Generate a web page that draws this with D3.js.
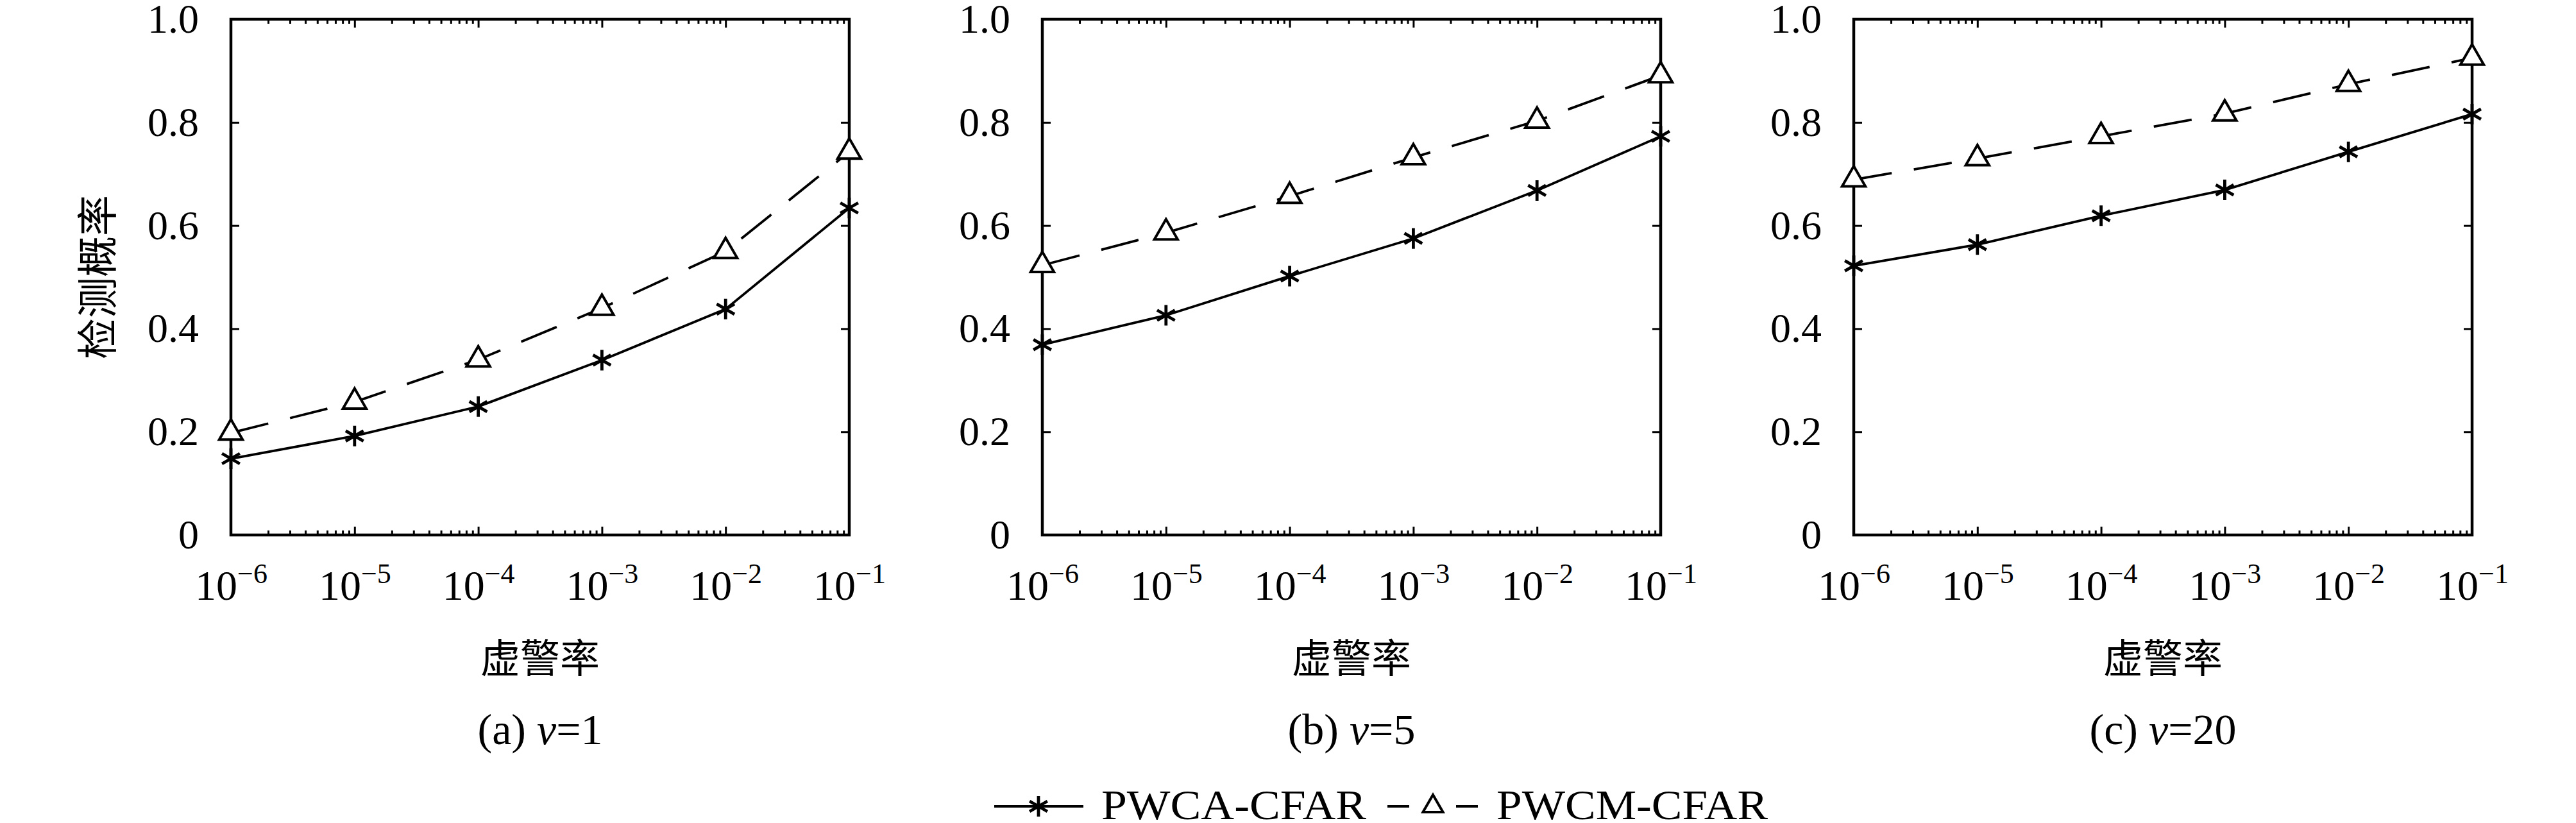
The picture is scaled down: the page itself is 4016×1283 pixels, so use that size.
<!DOCTYPE html>
<html>
<head>
<meta charset="utf-8">
<script src="https://cdn.jsdelivr.net/npm/d3@7"></script>
<style>
  body { margin: 0; background: #fff; }
</style>
</head>
<body>
<div id="chart"></div>
<script>
// Data
var falseAlarm = [1e-6, 1e-5, 1e-4, 1e-3, 1e-2, 1e-1];
var expLabels = ["\u22126", "\u22125", "\u22124", "\u22123", "\u22122", "\u22121"];
var yTicks = [0, 0.2, 0.4, 0.6, 0.8, 1.0];
var seriesNames = ["PWCA-CFAR", "PWCM-CFAR"];
var panelLetters = ["(a)", "(b)", "(c)"];
var panelNu = ["1", "5", "20"];

var pwcaV1  = [0.148, 0.192, 0.249, 0.339, 0.438, 0.634];
var pwcmV1  = [0.198, 0.258, 0.340, 0.440, 0.550, 0.743];
var pwcaV5  = [0.369, 0.426, 0.502, 0.575, 0.668, 0.773];
var pwcmV5  = [0.523, 0.586, 0.657, 0.732, 0.803, 0.891];
var pwcaV20 = [0.522, 0.563, 0.619, 0.669, 0.743, 0.816];
var pwcmV20 = [0.689, 0.730, 0.773, 0.817, 0.874, 0.925];

var panels = [
  {ca: pwcaV1, cm: pwcmV1},
  {ca: pwcaV5, cm: pwcmV5},
  {ca: pwcaV20, cm: pwcmV20}
];

// Layout
//-----------
var W = 4016, H = 1283;
var plotW = 964, plotH = 804;
var plotTop = 30;
var lefts = [360, 1625, 2890];
var serif = "'Liberation Serif', 'Times New Roman', serif";
var cjk = "'Noto Sans CJK SC', sans-serif";

var svg = d3.select("#chart").append("svg")
  .attr("width", W).attr("height", H);
svg.append("rect").attr("width", W).attr("height", H).attr("fill", "#fff");

var x = d3.scaleLog().domain([1e-6, 1e-1]).range([0, plotW]);
var y = d3.scaleLinear().domain([0, 1]).range([plotH, 0]);

// minor log ticks 2..9 in each decade
var minors = [];
falseAlarm.slice(0, -1).forEach(function(d) {
  for (var k = 2; k <= 9; k++) minors.push(d * k);
});

function starPath(r) {
  var p = "";
  [90, 30, 150].forEach(function(a) {
    var rad = a * Math.PI / 180;
    var dx = r * Math.cos(rad), dy = r * Math.sin(rad);
    p += "M" + (-dx) + "," + (-dy) + "L" + dx + "," + dy;
  });
  return p;
}
function triPath(r) {
  var s = Math.sqrt(3) / 2;
  return "M0," + (-r) + "L" + (r * s) + "," + (r / 2) + "L" + (-r * s) + "," + (r / 2) + "Z";
}

panels.forEach(function(pd, pi) {
  var g = svg.append("g").attr("transform", "translate(" + lefts[pi] + "," + plotTop + ")");

  // ticks (inward, mirrored)
  var tickStyle = function(sel) {
    sel.select(".domain").remove();
    sel.selectAll("line").attr("stroke", "#000").attr("stroke-width", 3);
  };
  g.append("g").attr("transform", "translate(0," + plotH + ")")
    .call(d3.axisBottom(x).tickValues(minors).tickSize(-7).tickFormat("")).call(tickStyle);
  g.append("g")
    .call(d3.axisTop(x).tickValues(minors).tickSize(-7).tickFormat("")).call(tickStyle);
  g.append("g")
    .call(d3.axisTop(x).tickValues(falseAlarm).tickSize(-13).tickFormat("")).call(tickStyle);
  g.append("g").attr("transform", "translate(" + plotW + ",0)")
    .call(d3.axisRight(y).tickValues(yTicks).tickSize(-13).tickFormat("")).call(tickStyle);

  var xAxis = g.append("g").attr("transform", "translate(0," + plotH + ")")
    .call(d3.axisBottom(x).tickValues(falseAlarm).tickSize(-13).tickFormat(function() { return ""; }))
    .call(tickStyle);
  xAxis.selectAll(".tick text")
    .attr("y", 101).attr("dy", null)
    .attr("font-family", serif).attr("font-size", 66).attr("fill", "#000")
    .each(function(d, i) {
      var t = d3.select(this);
      t.append("tspan").text("10");
      t.append("tspan").attr("dy", -26).attr("font-size", 44).text(expLabels[i]);
    });

  g.append("g")
    .call(d3.axisLeft(y).tickValues(yTicks).tickSize(-13).tickPadding(50)
      .tickFormat(function(d) { return d === 0 ? "0" : d3.format(".1f")(d); }))
    .call(tickStyle)
    .selectAll("text")
    .attr("font-family", serif).attr("font-size", 64).attr("fill", "#000");

  // frame
  g.append("rect").attr("width", plotW).attr("height", plotH)
    .attr("fill", "none").attr("stroke", "#000").attr("stroke-width", 4.5);

  // series
  var line = d3.line().x(function(d, i) { return x(falseAlarm[i]); }).y(function(d) { return y(d); });

  g.append("path").datum(pd.ca).attr("d", line)
    .attr("fill", "none").attr("stroke", "#000").attr("stroke-width", 3.8);
  g.append("path").datum(pd.cm).attr("d", line)
    .attr("fill", "none").attr("stroke", "#000").attr("stroke-width", 3.8)
    .attr("stroke-dasharray", "60,35");

  g.selectAll(".star").data(pd.ca).enter().append("path")
    .attr("transform", function(d, i) { return "translate(" + x(falseAlarm[i]) + "," + y(d) + ")"; })
    .attr("d", starPath(16)).attr("stroke", "#000").attr("stroke-width", 4.8).attr("fill", "none");
  g.selectAll(".tri").data(pd.cm).enter().append("path")
    .attr("transform", function(d, i) { return "translate(" + x(falseAlarm[i]) + "," + y(d) + ")"; })
    .attr("d", triPath(21)).attr("stroke", "#000").attr("stroke-width", 4).attr("fill", "#fff");

  // x label
  g.append("text").attr("x", plotW / 2).attr("y", 992)
    .attr("text-anchor", "middle").attr("dominant-baseline", "central")
    .attr("font-family", cjk).attr("font-size", 62).attr("fill", "#000")
    .text("虚警率");

  // caption
  var cap = g.append("text").attr("x", plotW / 2).attr("y", 1130)
    .attr("text-anchor", "middle").attr("font-family", serif).attr("font-size", 68).attr("fill", "#000");
  cap.append("tspan").text(panelLetters[pi] + " ");
  cap.append("tspan").attr("font-style", "italic").text("v");
  cap.append("tspan").text("=" + panelNu[pi]);
});

// y label (left panel only)
svg.append("text")
  .attr("transform", "translate(147," + (plotTop + plotH / 2) + ") rotate(-90)")
  .attr("text-anchor", "middle").attr("dominant-baseline", "central")
  .attr("font-family", cjk).attr("font-size", 64).attr("fill", "#000")
  .text("检测概率");

// Legend
//-----------
var lg = svg.append("g");
var ly = 1257;
lg.append("line").attr("x1", 1550).attr("x2", 1689).attr("y1", ly).attr("y2", ly)
  .attr("stroke", "#000").attr("stroke-width", 3.8);
lg.append("path").attr("transform", "translate(1619," + ly + ")")
  .attr("d", starPath(16)).attr("stroke", "#000").attr("stroke-width", 4.8).attr("fill", "none");
lg.append("text").attr("x", 1717).attr("y", 1277)
  .attr("font-family", serif).attr("font-size", 66).attr("fill", "#000")
  .attr("textLength", 413).attr("lengthAdjust", "spacingAndGlyphs").text(seriesNames[0]);

lg.append("line").attr("x1", 2163).attr("x2", 2304).attr("y1", ly).attr("y2", ly)
  .attr("stroke", "#000").attr("stroke-width", 3.8).attr("stroke-dasharray", "34,73,34");
lg.append("path").attr("transform", "translate(2234," + ly + ")")
  .attr("d", triPath(18)).attr("stroke", "#000").attr("stroke-width", 4).attr("fill", "#fff");
lg.append("text").attr("x", 2333).attr("y", 1277)
  .attr("font-family", serif).attr("font-size", 66).attr("fill", "#000")
  .attr("textLength", 423).attr("lengthAdjust", "spacingAndGlyphs").text(seriesNames[1]);
</script>
</body>
</html>
